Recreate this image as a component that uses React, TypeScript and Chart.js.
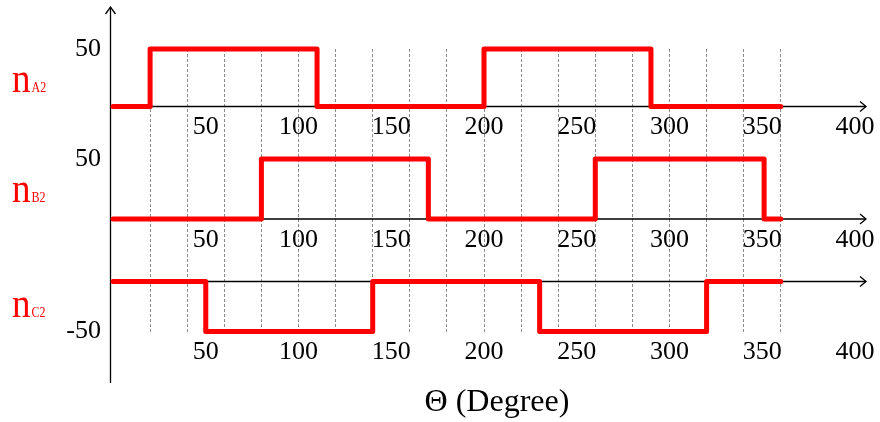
import React, { useEffect, useRef } from 'react';
import { Chart, registerables } from 'chart.js';

Chart.register(...registerables);

// ---- data ----
const nA2Angles = [0, 20, 110, 200, 290, 360];
const nA2Values = [0, 50, 0, 50, 0, 0];
const nB2Angles = [0, 80, 170, 260, 351, 360];
const nB2Values = [0, 50, 0, 50, 0, 0];
const nC2Angles = [0, 50, 140, 230, 320, 360];
const nC2Values = [0, -50, 0, -50, 0, 0];

const xTickValues = [50, 100, 150, 200, 250, 300, 350, 400];
const gridAngles = [20, 40, 60, 80, 100, 120, 140, 160, 180, 200, 220, 240, 260, 280, 300, 320, 340, 360];
const yTicksA = [50];
const yTicksB = [50];
const yTicksC = [-50];

const seriesMain = 'n';
const seriesSubs = ['A2', 'B2', 'C2'];
const xAxisTitle = 'Θ (Degree)';

const FONT = "'Liberation Serif', 'Times New Roman', serif";
const RED = '#ff0000';

const toPoints = (xs: number[], ys: number[]) => xs.map((x, i) => ({ x, y: ys[i] }));

const setTicks = (vals: number[]) => (scale: any) => {
  scale.ticks = vals.map((v) => ({ value: v }));
};

const decorPlugin = {
  id: 'decor',
  beforeDatasetsDraw(chart: any) {
    const ctx = chart.ctx;
    const xs = chart.scales.x;
    const area = chart.chartArea;
    const axisX = xs.getPixelForValue(0) - 2.5;
    const arrowEnd = area.right + 11;
    ctx.save();
    ctx.strokeStyle = '#000';
    ctx.lineWidth = 1.3;
    ctx.lineCap = 'butt';
    const top = area.top - 42;
    ctx.beginPath();
    ctx.moveTo(axisX, area.bottom + 51);
    ctx.lineTo(axisX, top);
    ctx.stroke();
    ctx.beginPath();
    ctx.moveTo(axisX - 5, top + 7);
    ctx.lineTo(axisX, top);
    ctx.lineTo(axisX + 5, top + 7);
    ctx.stroke();
    for (const id of ['yA', 'yB', 'yC']) {
      const y = chart.scales[id].getPixelForValue(0);
      ctx.beginPath();
      ctx.moveTo(axisX, y);
      ctx.lineTo(arrowEnd, y);
      ctx.stroke();
      ctx.beginPath();
      ctx.moveTo(arrowEnd - 6, y - 5);
      ctx.lineTo(arrowEnd, y);
      ctx.lineTo(arrowEnd - 6, y + 5);
      ctx.stroke();
    }
    ctx.restore();
  },
  afterDraw(chart: any) {
    const ctx = chart.ctx;
    const offsets = [-14.5, -17, 35.5];
    ['yA', 'yB', 'yC'].forEach((id, i) => {
      const base = chart.scales[id].getPixelForValue(0) + offsets[i];
      ctx.save();
      ctx.translate(12, base);
      ctx.scale(1, 1.15);
      ctx.fillStyle = RED;
      ctx.textAlign = 'left';
      ctx.textBaseline = 'alphabetic';
      ctx.font = `37px ${FONT}`;
      ctx.fillText(seriesMain, 0, 0);
      const w = ctx.measureText(seriesMain).width;
      ctx.font = `12px ${FONT}`;
      ctx.fillText(seriesSubs[i], w + 1, 0);
      ctx.restore();
    });
    ctx.save();
    ctx.fillStyle = '#000';
    ctx.font = `32px ${FONT}`;
    ctx.textAlign = 'center';
    ctx.textBaseline = 'alphabetic';
    ctx.fillText(xAxisTitle, 497, chart.chartArea.bottom + 79);
    ctx.restore();
  },
};

const tickFont = { family: FONT, size: 26 };

const labelAxis = (yId: string, at: number, pad: number) => ({
  type: 'linear' as const,
  min: 0,
  max: 400,
  bounds: 'data' as const,
  position: { [yId]: at },
  afterBuildTicks: setTicks(xTickValues),
  grid: { display: false, drawTicks: false },
  border: { display: false },
  ticks: { font: tickFont, color: '#000', padding: pad, autoSkip: false, maxRotation: 0 },
});

const valueAxis = (min: number, max: number, ticks: number[]) => ({
  type: 'linear' as const,
  min,
  max,
  bounds: 'data' as const,
  position: { x: -6.5 },
  afterBuildTicks: setTicks(ticks),
  grid: { display: false, drawTicks: false },
  border: { display: false },
  ticks: { font: tickFont, color: '#000', padding: 0 },
});

export default function App() {
  const ref = useRef<HTMLCanvasElement | null>(null);
  useEffect(() => {
    if (!ref.current) return;
    const lineStyle = {
      borderColor: RED,
      backgroundColor: RED,
      borderWidth: 5,
      pointRadius: 0,
      stepped: 'before' as const,
      borderCapStyle: 'round' as const,
      borderJoinStyle: 'round' as const,
      clip: false as const,
      xAxisID: 'x',
    };
    const chart = new Chart(ref.current, {
      type: 'line',
      data: {
        datasets: [
          { ...lineStyle, label: 'nA2', data: toPoints(nA2Angles, nA2Values), yAxisID: 'yA' },
          { ...lineStyle, label: 'nB2', data: toPoints(nB2Angles, nB2Values), yAxisID: 'yB' },
          { ...lineStyle, label: 'nC2', data: toPoints(nC2Angles, nC2Values), yAxisID: 'yC' },
        ],
      },
      options: {
        animation: false,
        responsive: false,
        layout: { padding: { left: 113, right: 24, top: 49, bottom: 90 } },
        plugins: { legend: { display: false }, tooltip: { enabled: false } },
        scales: {
          x: {
            type: 'linear',
            min: 0,
            max: 400,
            bounds: 'data',
            position: { yA: 0 },
            afterBuildTicks: setTicks(gridAngles),
            grid: {
              display: true,
              drawTicks: false,
              color: 'rgba(0,0,0,0.45)',
              lineWidth: 1,
            },
            border: { display: false, dash: [3, 2] },
            ticks: { display: false },
          },
          xA: labelAxis('yA', 0, 5.5),
          xB: labelAxis('yB', 0, 5.5),
          xC: labelAxis('yC', -50, 5.5),
          yA: valueAxis(-196.1, 50, yTicksA),
          yB: valueAxis(-94.2, 141.7, yTicksB),
          yC: valueAxis(-50.5, 232.5, yTicksC),
        } as any,
      },
      plugins: [decorPlugin],
    });
    return () => chart.destroy();
  }, []);
  return (
    <canvas
      ref={ref}
      width={880}
      height={422}
      style={{ position: 'absolute', left: 0, top: 0, display: 'block', width: 880, height: 422 }}
    />
  );
}
